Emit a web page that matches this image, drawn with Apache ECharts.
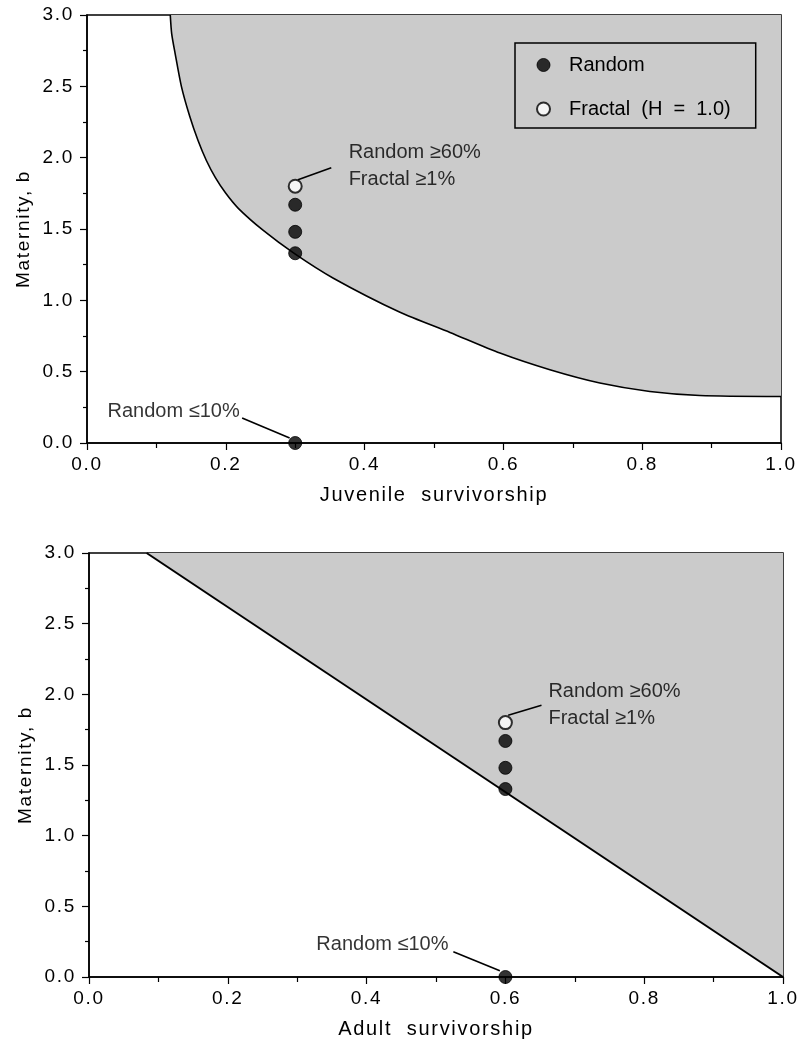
<!DOCTYPE html>
<html>
<head>
<meta charset="utf-8">
<script src="https://cdn.jsdelivr.net/npm/echarts@6/dist/echarts.min.js"></script>
<style>
html,body{margin:0;padding:0;background:#fff;}
#chart{width:800px;height:1047px;}
</style>
</head>
<body>
<div id="chart"></div>
<script>
// ---------- data ----------
// Top panel: boundary curve (juvenile survivorship, maternity b)
const juvenileCurve = [
  [0.120, 3.000], [0.122, 2.870], [0.127, 2.730], [0.136, 2.500], [0.148, 2.290],
  [0.160, 2.120], [0.172, 1.980], [0.185, 1.860], [0.200, 1.750], [0.218, 1.645],
  [0.254, 1.490], [0.298, 1.331], [0.355, 1.155], [0.451, 0.916], [0.523, 0.775],
  [0.595, 0.630], [0.667, 0.513], [0.739, 0.420], [0.811, 0.361], [0.883, 0.333],
  [1.000, 0.326]
];
// Bottom panel: boundary line (adult survivorship, maternity b)
const adultLine = [[0.083, 3.0], [1.0, 0.0]];

const juvenileX = 0.3;
const adultX = 0.6;
const randomB = [1.67, 1.48, 1.33, 0.0];
const fractalB = [1.8];

const xTicks = [0.0, 0.2, 0.4, 0.6, 0.8, 1.0];
const yTicks = [0.0, 0.5, 1.0, 1.5, 2.0, 2.5, 3.0];

const legendRandom = 'Random';
const legendFractal = 'Fractal  (H  =  1.0)';
const noteHigh = 'Random \u226560%\nFractal \u22651%';
const noteLow = 'Random \u226410%';

// annotation anchors and leader lines (data coordinates)
const topNoteHighAnchor = [0.377, 1.94];
const topNoteHighLeader = [[0.304, 1.845], [0.352, 1.93]];
const topNoteLowAnchor = [0.220, 0.219];
const topNoteLowLeader = [[0.2235, 0.175], [0.292, 0.035]];
const botNoteHighAnchor = [0.662, 1.926];
const botNoteHighLeader = [[0.604, 1.852], [0.652, 1.922]];
const botNoteLowAnchor = [0.518, 0.228];
const botNoteLowLeader = [[0.525, 0.178], [0.592, 0.044]];

// ---------- letter spacing for axis text (Helvetica-styled) ----------
(function(){
  const proto = CanvasRenderingContext2D.prototype;
  const origFill = proto.fillText;
  proto.fillText = function(t, x, y, m){
    if ('letterSpacing' in this) {
      this.letterSpacing = /Helvetica/.test(this.font) ? '1.7px' : '0px';
    }
    return m === undefined ? origFill.call(this, t, x, y) : origFill.call(this, t, x, y, m);
  };
})();

const AXIS_FONT = 'Helvetica, "Liberation Sans", Arial, sans-serif';
const NOTE_FONT = '"Liberation Sans", Arial, sans-serif';
const INK = '#000';
const SHADE = '#cbcbcb';

function xAxisDef(gridIndex, name){
  return {
    type: 'value', gridIndex: gridIndex, min: 0, max: 1, interval: 0.2,
    name: name, nameLocation: 'middle', nameGap: 42,
    nameTextStyle: {fontFamily: AXIS_FONT, fontSize: 20, color: INK},
    axisLine: {show: true, onZero: false, lineStyle: {color: '#000', width: 1.5}},
    axisTick: {show: true, inside: false, length: 7, lineStyle: {color: '#000', width: 1.2}},
    minorTick: {show: true, splitNumber: 2, length: 5, lineStyle: {color: '#000', width: 1.2}},
    axisLabel: {fontFamily: AXIS_FONT, fontSize: 19, color: INK, margin: 12,
      formatter: v => xTicks.some(t => Math.abs(t - v) < 1e-9) ? v.toFixed(1) : ''},
    splitLine: {show: false}, minorSplitLine: {show: false}
  };
}
function yAxisDef(gridIndex){
  return {
    type: 'value', gridIndex: gridIndex, min: 0, max: 3, interval: 0.5,
    name: 'Maternity, b', nameLocation: 'middle', nameGap: 54, nameRotate: 90,
    nameTextStyle: {fontFamily: AXIS_FONT, fontSize: 19, color: INK},
    axisLine: {show: true, onZero: false, lineStyle: {color: '#000', width: 1.5}},
    axisTick: {show: true, inside: false, length: 7, lineStyle: {color: '#000', width: 1.2}},
    minorTick: {show: true, splitNumber: 2, length: 4, lineStyle: {color: '#000', width: 1.2}},
    axisLabel: {fontFamily: AXIS_FONT, fontSize: 19, color: INK, margin: 13,
      formatter: v => yTicks.some(t => Math.abs(t - v) < 1e-9) ? v.toFixed(1) : ''},
    splitLine: {show: false}, minorSplitLine: {show: false}
  };
}

function leader(gridIndex, pts){
  return {
    type: 'line', xAxisIndex: gridIndex, yAxisIndex: gridIndex, data: pts,
    symbol: 'none', silent: true, z: 6, clip: false,
    lineStyle: {color: '#000', width: 1.6}
  };
}
function note(gridIndex, anchor, text, pos){
  return {
    type: 'scatter', xAxisIndex: gridIndex, yAxisIndex: gridIndex,
    data: [anchor], symbolSize: 0, silent: true, z: 7, clip: false,
    label: {show: true, position: pos, distance: 0, formatter: text,
      fontFamily: NOTE_FONT, fontSize: 20, lineHeight: 27, color: INK}
  };
}
function dots(gridIndex, x){
  return [
    {
      name: legendRandom, type: 'scatter', xAxisIndex: gridIndex, yAxisIndex: gridIndex,
      data: randomB.map(b => [x, b]), symbol: 'circle', symbolSize: 13, z: 8, clip: false,
      itemStyle: {color: '#000', borderColor: '#000', borderWidth: 1}
    },
    {
      name: legendFractal, type: 'scatter', xAxisIndex: gridIndex, yAxisIndex: gridIndex,
      data: fractalB.map(b => [x, b]), symbol: 'circle', symbolSize: 13, z: 8, clip: false,
      itemStyle: {color: '#fff', borderColor: '#000', borderWidth: 2}
    }
  ];
}

const option = {
  animation: false,
  backgroundColor: '#fff',
  grid: [
    {left: 87, top: 15, width: 694, height: 428, show: true, borderColor: '#000', borderWidth: 1.5, backgroundColor: 'transparent'},
    {left: 89, top: 553, width: 694, height: 424, show: true, borderColor: '#000', borderWidth: 1.5, backgroundColor: 'transparent'}
  ],
  xAxis: [xAxisDef(0, 'Juvenile  survivorship'), xAxisDef(1, 'Adult  survivorship')],
  yAxis: [yAxisDef(0), yAxisDef(1)],
  legend: {
    left: 515, top: 43, orient: 'vertical',
    data: [
      {name: legendRandom, icon: 'circle', itemStyle: {color: '#000', borderColor: '#000', borderWidth: 1}},
      {name: legendFractal, icon: 'circle', itemStyle: {color: '#fff', borderColor: '#000', borderWidth: 2}}
    ],
    itemWidth: 13, itemHeight: 13, itemGap: 22,
    padding: [11, 25, 8, 21],
    borderColor: '#000', borderWidth: 1.5, backgroundColor: SHADE,
    selectedMode: false,
    textStyle: {fontFamily: NOTE_FONT, fontSize: 20, color: INK, lineHeight: 22, padding: [0, 0, 0, 14]}
  },
  series: [
    {
      type: 'line', xAxisIndex: 0, yAxisIndex: 0, data: juvenileCurve,
      smooth: 0.25,
      symbol: 'none', silent: true, z: 3,
      lineStyle: {color: '#000', width: 1.6},
      areaStyle: {origin: 'end', color: SHADE, opacity: 1}
    },
    {
      type: 'line', xAxisIndex: 1, yAxisIndex: 1, data: adultLine,
      symbol: 'none', silent: true, z: 3,
      lineStyle: {color: '#000', width: 2},
      areaStyle: {origin: 'end', color: SHADE, opacity: 1}
    },
    leader(0, topNoteHighLeader), leader(0, topNoteLowLeader),
    leader(1, botNoteHighLeader), leader(1, botNoteLowLeader),
    note(0, topNoteHighAnchor, noteHigh, 'right'),
    note(0, topNoteLowAnchor, noteLow, 'left'),
    note(1, botNoteHighAnchor, noteHigh, 'right'),
    note(1, botNoteLowAnchor, noteLow, 'left'),
    ...dots(0, juvenileX),
    ...dots(1, adultX)
  ]
};

const chart = echarts.init(document.getElementById('chart'), null, {renderer: 'canvas'});
chart.setOption(option);
</script>
</body>
</html>
